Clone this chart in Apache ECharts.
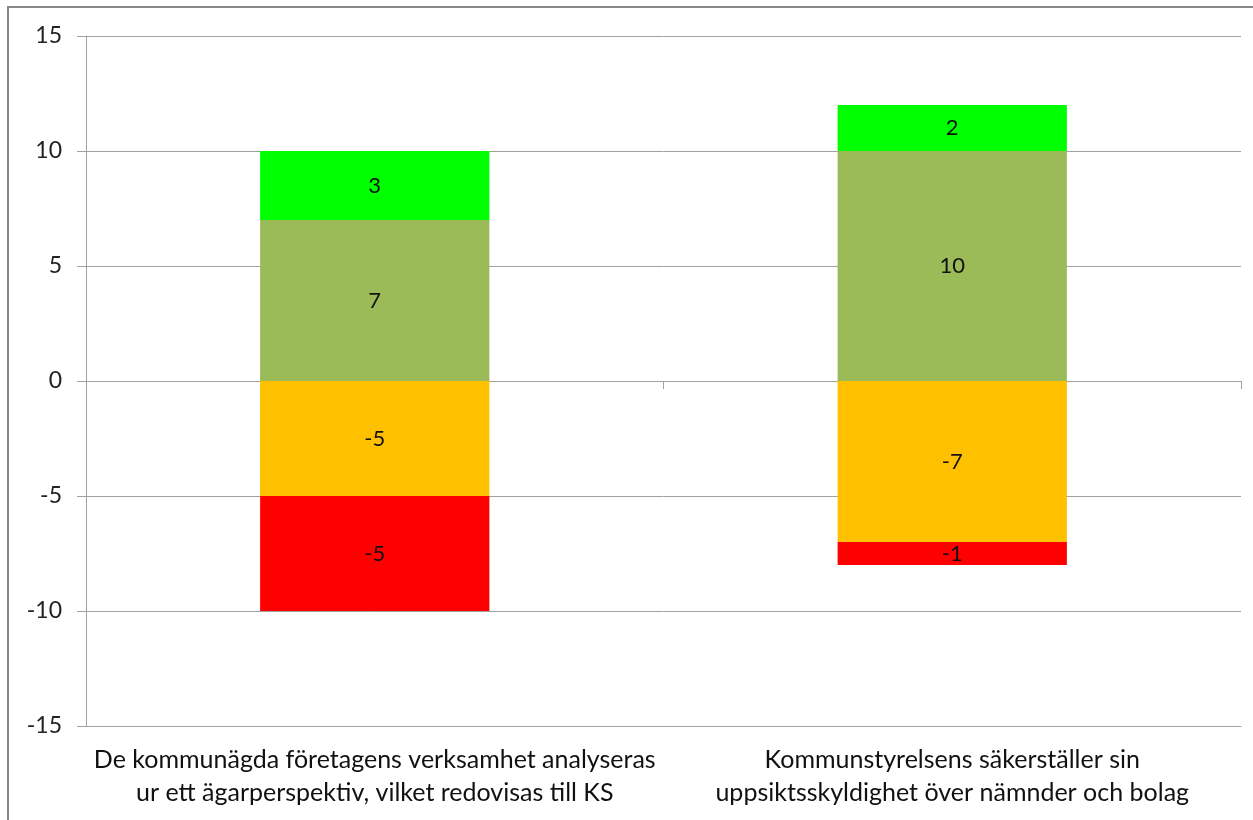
<!DOCTYPE html>
<html><head><meta charset="utf-8">
<script src="https://cdn.jsdelivr.net/npm/echarts@6/dist/echarts.min.js"></script>
<style>html,body{margin:0;padding:0;background:#fff}#c{width:1253px;height:820px}</style>
</head><body><div id="c"></div>
<script>
const categories = [
  "De kommunägda företagens verksamhet analyseras\nur ett ägarperspektiv, vilket redovisas till KS",
  "Kommunstyrelsens säkerställer sin\nuppsiktsskyldighet över nämnder och bolag"
];
const oliveValues = [7, 10];
const brightGreenValues = [3, 2];
const orangeValues = [-5, -7];
const redValues = [-5, -1];
const yTicks = { min: -15, max: 15, interval: 5 };

const chart = echarts.init(document.getElementById('c'));
const font = 'Lato, "Open Sans", sans-serif';
const lbl = { show: true, position: 'inside', color: '#111', fontSize: 22, fontFamily: font };
function s(name, data, color) {
  return { name, type: 'bar', stack: 'a', data, barWidth: '39.7%', xAxisIndex: 0,
    itemStyle: { color }, label: lbl, emphasis: { disabled: true } };
}
chart.setOption({
  animation: false,
  grid: { left: 86, right: 12, top: 36, bottom: 94 },
  graphic: [{ type: 'rect', shape: { x: 8, y: 7, width: 1400, height: 1000 },
    style: { fill: 'none', stroke: '#888', lineWidth: 2 }, silent: true, z: -1 }],
  xAxis: [
    { type: 'category', data: categories, position: 'bottom',
      axisLine: { onZero: false, lineStyle: { color: '#a0a0a0' } },
      axisTick: { show: false },
      axisLabel: { interval: 0, hideOverlap: false, color: '#111', fontSize: 25, fontFamily: font, margin: 17, lineHeight: 33 } },
    { type: 'category', data: categories, position: 'bottom',
      axisLine: { onZero: true, lineStyle: { color: '#a0a0a0', width: 1 } },
      axisTick: { show: true, length: 8, lineStyle: { color: '#a0a0a0' } },
      axisLabel: { show: false } }
  ],
  yAxis: {
    type: 'value', min: yTicks.min, max: yTicks.max, interval: yTicks.interval,
    axisLine: { show: true, lineStyle: { color: '#a0a0a0' } },
    axisTick: { show: true, length: 9, lineStyle: { color: '#a0a0a0' } },
    splitLine: { lineStyle: { color: '#a0a0a0' } },
    axisLabel: { color: '#222', fontSize: 23, fontFamily: font, margin: 24 }
  },
  series: [
    s('Olive', oliveValues, '#9BBB59'),
    s('Green', brightGreenValues, '#00FF00'),
    s('Orange', orangeValues, '#FFC000'),
    s('Red', redValues, '#FF0000')
  ]
});
</script></body></html>
